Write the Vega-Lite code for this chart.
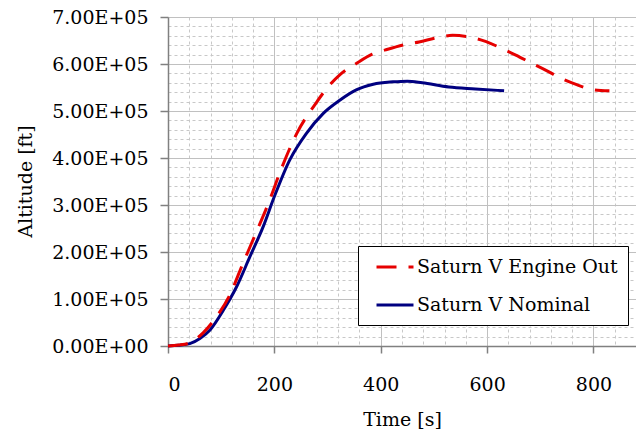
{
  "$schema": "https://vega.github.io/schema/vega-lite/v6.json",
  "width": 468,
  "height": 329,
  "autosize": {"type": "none"},
  "padding": {"left": 168, "top": 17, "right": 0, "bottom": 86},
  "background": "white",
  "resolve": {"axis": {"x": "independent", "y": "independent"}},
  "config": {
    "view": {"stroke": null},
    "font": "DejaVu Serif",
    "axis": {"labelFont": "DejaVu Serif", "titleFont": "DejaVu Serif", "labelColor": "black", "titleColor": "black", "titleFontWeight": "normal"},
    "legend": {"labelFont": "DejaVu Serif"}
  },
  "data": {
    "values": [
      {"t": 0, "alt": 0, "series": "Saturn V Engine Out"},
      {"t": 20, "alt": 2000, "series": "Saturn V Engine Out"},
      {"t": 40, "alt": 6500, "series": "Saturn V Engine Out"},
      {"t": 66, "alt": 28000, "series": "Saturn V Engine Out"},
      {"t": 91, "alt": 62000, "series": "Saturn V Engine Out"},
      {"t": 116, "alt": 108000, "series": "Saturn V Engine Out"},
      {"t": 141, "alt": 176000, "series": "Saturn V Engine Out"},
      {"t": 166, "alt": 242000, "series": "Saturn V Engine Out"},
      {"t": 191, "alt": 310000, "series": "Saturn V Engine Out"},
      {"t": 210, "alt": 368000, "series": "Saturn V Engine Out"},
      {"t": 242, "alt": 452000, "series": "Saturn V Engine Out"},
      {"t": 279, "alt": 518000, "series": "Saturn V Engine Out"},
      {"t": 297, "alt": 546000, "series": "Saturn V Engine Out"},
      {"t": 323, "alt": 577000, "series": "Saturn V Engine Out"},
      {"t": 354, "alt": 601000, "series": "Saturn V Engine Out"},
      {"t": 384, "alt": 621000, "series": "Saturn V Engine Out"},
      {"t": 409, "alt": 630000, "series": "Saturn V Engine Out"},
      {"t": 444, "alt": 641000, "series": "Saturn V Engine Out"},
      {"t": 472, "alt": 647000, "series": "Saturn V Engine Out"},
      {"t": 506, "alt": 656000, "series": "Saturn V Engine Out"},
      {"t": 535, "alt": 661000, "series": "Saturn V Engine Out"},
      {"t": 569, "alt": 657000, "series": "Saturn V Engine Out"},
      {"t": 597, "alt": 648000, "series": "Saturn V Engine Out"},
      {"t": 628, "alt": 633000, "series": "Saturn V Engine Out"},
      {"t": 654, "alt": 619000, "series": "Saturn V Engine Out"},
      {"t": 685, "alt": 601000, "series": "Saturn V Engine Out"},
      {"t": 710, "alt": 587000, "series": "Saturn V Engine Out"},
      {"t": 744, "alt": 567000, "series": "Saturn V Engine Out"},
      {"t": 766, "alt": 557000, "series": "Saturn V Engine Out"},
      {"t": 801, "alt": 545000, "series": "Saturn V Engine Out"},
      {"t": 830, "alt": 543000, "series": "Saturn V Engine Out"},
      {"t": 0, "alt": 0, "series": "Saturn V Nominal"},
      {"t": 20, "alt": 1500, "series": "Saturn V Nominal"},
      {"t": 41, "alt": 5000, "series": "Saturn V Nominal"},
      {"t": 60, "alt": 16000, "series": "Saturn V Nominal"},
      {"t": 79, "alt": 34000, "series": "Saturn V Nominal"},
      {"t": 104, "alt": 76000, "series": "Saturn V Nominal"},
      {"t": 129, "alt": 126000, "series": "Saturn V Nominal"},
      {"t": 154, "alt": 190000, "series": "Saturn V Nominal"},
      {"t": 179, "alt": 254000, "series": "Saturn V Nominal"},
      {"t": 200, "alt": 318000, "series": "Saturn V Nominal"},
      {"t": 229, "alt": 396000, "series": "Saturn V Nominal"},
      {"t": 260, "alt": 452000, "series": "Saturn V Nominal"},
      {"t": 292, "alt": 495000, "series": "Saturn V Nominal"},
      {"t": 323, "alt": 523000, "series": "Saturn V Nominal"},
      {"t": 354, "alt": 545000, "series": "Saturn V Nominal"},
      {"t": 386, "alt": 557000, "series": "Saturn V Nominal"},
      {"t": 423, "alt": 562000, "series": "Saturn V Nominal"},
      {"t": 450, "alt": 563500, "series": "Saturn V Nominal"},
      {"t": 478, "alt": 560000, "series": "Saturn V Nominal"},
      {"t": 528, "alt": 551000, "series": "Saturn V Nominal"},
      {"t": 578, "alt": 547000, "series": "Saturn V Nominal"},
      {"t": 632, "alt": 543000, "series": "Saturn V Nominal"}
    ]
  },
  "layer": [
    {
      "mark": {"type": "line", "opacity": 0},
      "encoding": {
        "x": {"field": "t", "type": "quantitative", "scale": {"domain": [0, 880], "nice": false, "zero": false},
          "axis": {"orient": "bottom", "values": [40, 80, 120, 160, 240, 280, 320, 360, 440, 480, 520, 560, 640, 680, 720, 760, 840, 880], "grid": true, "gridColor": "#c8c8c8", "gridDash": [3, 3], "gridWidth": 1, "labels": false, "ticks": false, "domain": false, "title": null}},
        "y": {"field": "alt", "type": "quantitative", "scale": {"domain": [0, 700000], "nice": false},
          "axis": {"orient": "left", "values": [20000, 40000, 60000, 80000, 120000, 140000, 160000, 180000, 220000, 240000, 260000, 280000, 320000, 340000, 360000, 380000, 420000, 440000, 460000, 480000, 520000, 540000, 560000, 580000, 620000, 640000, 660000, 680000], "grid": true, "gridColor": "#c8c8c8", "gridDash": [3, 3], "gridWidth": 1, "labels": false, "ticks": false, "domain": false, "title": null}},
        "detail": {"field": "series", "type": "nominal"}
      }
    },
    {
      "transform": [{"filter": "datum.series === 'Saturn V Nominal'"}],
      "mark": {"type": "line", "strokeWidth": 3, "interpolate": "monotone"},
      "encoding": {
        "x": {"field": "t", "type": "quantitative",
          "axis": {"orient": "bottom", "values": [0, 200, 400, 600, 800], "grid": true, "gridColor": "#c0c0c0", "gridWidth": 1, "domainColor": "#808080", "domainWidth": 1.5, "tickColor": "#808080", "tickSize": 7, "tickWidth": 1.5, "labelFontSize": 19, "labelPadding": 22, "title": "Time [s]", "titleFontSize": 19, "titlePadding": 16}},
        "y": {"field": "alt", "type": "quantitative",
          "axis": {"orient": "left", "values": [0, 100000, 200000, 300000, 400000, 500000, 600000, 700000], "labelExpr": "replace(format(datum.value, '.2e'), 'e+', 'E+0')", "grid": true, "gridColor": "#c0c0c0", "gridWidth": 1, "domainColor": "#808080", "domainWidth": 1.5, "tickColor": "#808080", "tickSize": 8, "tickWidth": 1.5, "labelFontSize": 19, "labelPadding": 12, "title": "Altitude [ft]", "titleFontSize": 19, "titleX": -143, "titleY": 164, "titleAngle": -90, "titleAlign": "center", "titleBaseline": "middle"}},
        "color": {"field": "series", "type": "nominal",
          "scale": {"domain": ["Saturn V Engine Out", "Saturn V Nominal"], "range": ["#e60000", "#000080"]},
          "legend": {"title": null, "orient": "none", "legendX": 190, "legendY": 229, "fillColor": "white", "strokeColor": "black", "padding": 10, "labelFont": "DejaVu Serif", "labelFontSize": 19, "labelColor": "black", "labelOffset": 11, "rowPadding": 17, "symbolOffset": 16, "symbolType": "M-2,0H2", "symbolSize": 342, "symbolStrokeWidth": 3, "labelLimit": 400,
            "encode": {"symbols": {"update": {"strokeDash": {"signal": "datum.value === 'Saturn V Engine Out' ? [20, 12] : [1, 0]"}}}}}}
      }
    },
    {
      "transform": [{"filter": "datum.series === 'Saturn V Engine Out'"}],
      "mark": {"type": "line", "strokeWidth": 3, "strokeDash": [20, 12], "interpolate": "monotone"},
      "encoding": {
        "x": {"field": "t", "type": "quantitative", "axis": null},
        "y": {"field": "alt", "type": "quantitative", "axis": null},
        "color": {"field": "series", "type": "nominal"}
      }
    }
  ]
}
